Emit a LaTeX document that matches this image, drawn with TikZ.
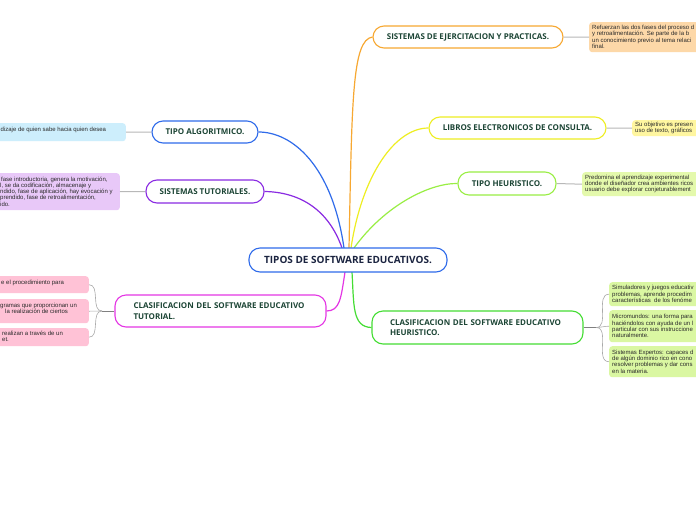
\documentclass[tikz,border=0pt]{standalone}
\usepackage{fontspec}
\setmainfont{Open Sans}
\newfontfamily\leaff{Liberation Sans}
\definecolor{cblue}{HTML}{2F6BEA}
\definecolor{cpurple}{HTML}{8A2BE2}
\definecolor{cmagenta}{HTML}{E436E4}
\definecolor{corange}{HTML}{F7A832}
\definecolor{cyellow}{HTML}{EEEE22}
\definecolor{clime}{HTML}{99EE44}
\definecolor{cgreen}{HTML}{44DD33}
\definecolor{maintext}{HTML}{1C4535}
\definecolor{centertext}{HTML}{1B2440}
\definecolor{leaftext}{HTML}{2A2A2A}
\definecolor{stemgray}{HTML}{B8B8B8}
\definecolor{darkstem}{HTML}{808080}
\definecolor{twiggray}{HTML}{AAAAAA}
\definecolor{lblue}{HTML}{CDEEFC}
\definecolor{lpurple}{HTML}{E8C8F8}
\definecolor{lpink}{HTML}{FFC2D6}
\definecolor{lorange}{HTML}{FDD8A8}
\definecolor{lyellow}{HTML}{FFF6A0}
\definecolor{llime}{HTML}{E4F9AC}
\definecolor{lgreen}{HTML}{DAF7A2}
\begin{document}
\begin{tikzpicture}[x=1pt,y=-1pt,
  mainbox/.style={draw, line width=1.1pt, rounded corners=11pt, fill=white, inner sep=0pt,
    font=\fontsize{8}{10.5}\selectfont\bfseries, text=maintext},
  leafbox/.style={rounded corners=3pt, inner sep=0pt, draw=none},
  leaftxt/.style={font=\leaff\fontsize{6}{6.3}\selectfont, text=leaftext, align=left, inner sep=0pt},
  stem/.style={draw=stemgray, line width=1pt},
  darkstemline/.style={draw=darkstem, line width=1pt},
  twig/.style={draw=twiggray, line width=0.6pt},
  branch/.style={line width=1.2pt}
]
\useasboundingbox (0,0) rectangle (696,520);
\clip (0,0) rectangle (696,520);
\fill[white] (0,0) rectangle (696,520);

% connection points on the central node
\coordinate (tb) at (344,248);
\coordinate (tp) at (342,248);
\coordinate (to) at (349,248);
\coordinate (ty) at (351,248);
\coordinate (tl) at (354,248);
\coordinate (bm) at (345,272);
\coordinate (bg) at (352,272);

% main nodes
\node[mainbox, draw=cblue, minimum width=106pt, minimum height=22pt] (alg) at (205,132) {TIPO ALGORITMICO.};
\node[mainbox, draw=cpurple, minimum width=118pt, minimum height=23pt] (tut) at (205,191.5) {SISTEMAS TUTORIALES.};
\node[mainbox, draw=cmagenta, minimum width=211pt, minimum height=32pt, text width=174pt, align=left] (ct) at (220.5,311) {CLASIFICACION DEL SOFTWARE EDUCATIVO\\TUTORIAL.};
\node[mainbox, draw=corange, minimum width=190pt, minimum height=22pt] (ej) at (468,37) {SISTEMAS DE EJERCITACION Y PRACTICAS.};
\node[mainbox, draw=cyellow, minimum width=177pt, minimum height=22pt] (lib) at (517.5,128) {LIBROS ELECTRONICOS DE CONSULTA.};
\node[mainbox, draw=clime, minimum width=98pt, minimum height=23pt] (heu) at (507,183.5) {TIPO HEURISTICO.};
\node[mainbox, draw=cgreen, minimum width=211pt, minimum height=33pt, text width=175pt, align=left] (ch) at (477.5,327.5) {CLASIFICACION DEL SOFTWARE EDUCATIVO\\HEURISTICO.};

% branches from the centre
\draw[branch, cblue] (tb) .. controls (332,165) and (292,132) .. (alg.east);
\draw[branch, cpurple] (tp) .. controls (328,208) and (298,192) .. (tut.east);
\draw[branch, cmagenta] (bm) .. controls (341,298) and (340,311) .. (ct.east);
\draw[branch, corange] (to) .. controls (352,100) and (352,40) .. (ej.west);
\draw[branch, cyellow] (ty) .. controls (362,175) and (395,128) .. (lib.west);
\draw[branch, clime] (tl) .. controls (385,205) and (430,183) .. (heu.west);
\draw[branch, cgreen] (bg) .. controls (354,305) and (352,327) .. (ch.west);

\node[mainbox, draw=cblue, minimum width=198pt, minimum height=24pt,
  font=\fontsize{10}{12}\selectfont\bfseries, text=centertext] (c) at (348,260) {TIPOS DE SOFTWARE EDUCATIVOS.};

% left leaves
\node[leafbox, fill=lblue, anchor=north east, minimum width=150pt, minimum height=18pt] (la) at (126,123) {};
\node[leaftxt, anchor=west] (lat) at (0.5,130) {dizaje de quien sabe hacia quien desea};
\draw[stem] (alg.west) -- (la.east);

\node[leafbox, fill=lpurple, anchor=north east, minimum width=150pt, minimum height=37pt] (lt) at (120,173) {};
\node[leaftxt, anchor=west] (ltt) at (0,191.5) {\hspace*{1pt}fase introductoria, genera la motivación,\\l, se da codificación, almacenaje y\\ndido, fase de aplicación, hay evocación y\\prendido, fase de retroalimentación,\\ido.};
\draw[stem] (tut.west) -- (lt.east);

\node[leafbox, fill=lpink, anchor=north east, minimum width=150pt, minimum height=17pt] (p1) at (89,276) {};
\node[leaftxt, anchor=west] (p1t) at (1,283) {e el procedimiento para};
\node[leafbox, fill=lpink, anchor=north east, minimum width=150pt, minimum height=24pt] (p2) at (89,299) {};
\node[leaftxt, anchor=west] (p2t) at (0,308) {gramas que proporcionan un\\\hspace*{5pt}la realización de ciertos};
\node[leafbox, fill=lpink, anchor=north east, minimum width=150pt, minimum height=18pt] (p3) at (89,328) {};
\node[leaftxt, anchor=west] (p3t) at (2,336.5) {realizan a través de un\\et.};
\coordinate (ctj) at (102,311);
\draw[darkstemline] (ct.west) -- (ctj);
\draw[twig] (ctj) to[out=180,in=0] (p1.east);
\draw[twig] (ctj) to[out=180,in=0] (p2.east);
\draw[twig] (ctj) to[out=180,in=0] (p3.east);

% right leaves
\node[leafbox, fill=lorange, anchor=north west, minimum width=150pt, minimum height=30pt] (lo) at (589,22) {};
\node[leaftxt, anchor=west] (lot) at (592,37) {Refuerzan las dos fases del proceso d\\y retroalimentación. Se parte de la b\\un conocimiento previo al tema relaci\\final.};
\draw[stem] (ej.east) -- (lo.west);

\node[leafbox, fill=lyellow, anchor=north west, minimum width=100pt, minimum height=16pt] (ly) at (632,120) {};
\node[leaftxt, anchor=west] (lyt) at (635,128) {Su objetivo es presen\\uso de texto, gráficos};
\draw[stem] (lib.east) -- (ly.west);

\node[leafbox, fill=llime, anchor=north west, minimum width=150pt, minimum height=24pt] (lh) at (582,172) {};
\node[leaftxt, anchor=west] (lht) at (585,184) {Predomina el aprendizaje experimental\\donde el diseñador crea ambientes ricos\\usuario debe explorar conjeturablement};
\draw[stem] (heu.east) -- (lh.west);

\node[leafbox, fill=lgreen, anchor=north west, minimum width=150pt, minimum height=24pt] (g1) at (609,282) {};
\node[leaftxt, anchor=west] (g1t) at (612,294) {Simuladores y juegos educativ\\problemas, aprende procedim\\características\ \ de los fenóme};
\node[leafbox, fill=lgreen, anchor=north west, minimum width=150pt, minimum height=32pt] (g2) at (609,310) {};
\node[leaftxt, anchor=west] (g2t) at (612,326) {Micromundos: una forma para\\haciéndolos con ayuda de un l\\particular con sus instruccione\\naturalmente.};
\node[leafbox, fill=lgreen, anchor=north west, minimum width=150pt, minimum height=31pt] (g3) at (609,346) {};
\node[leaftxt, anchor=west] (g3t) at (612,361.5) {Sistemas Expertos: capaces d\\de algún dominio rico en cono\\resolver problemas y dar cons\\en la materia.};
\coordinate (chj) at (596,327.5);
\draw[darkstemline] (ch.east) -- (chj);
\draw[twig] (chj) to[out=0,in=180] (g1.west);
\draw[twig] (chj) to[out=0,in=180] (g2.west);
\draw[twig] (chj) to[out=0,in=180] (g3.west);
\end{tikzpicture}
\end{document}
